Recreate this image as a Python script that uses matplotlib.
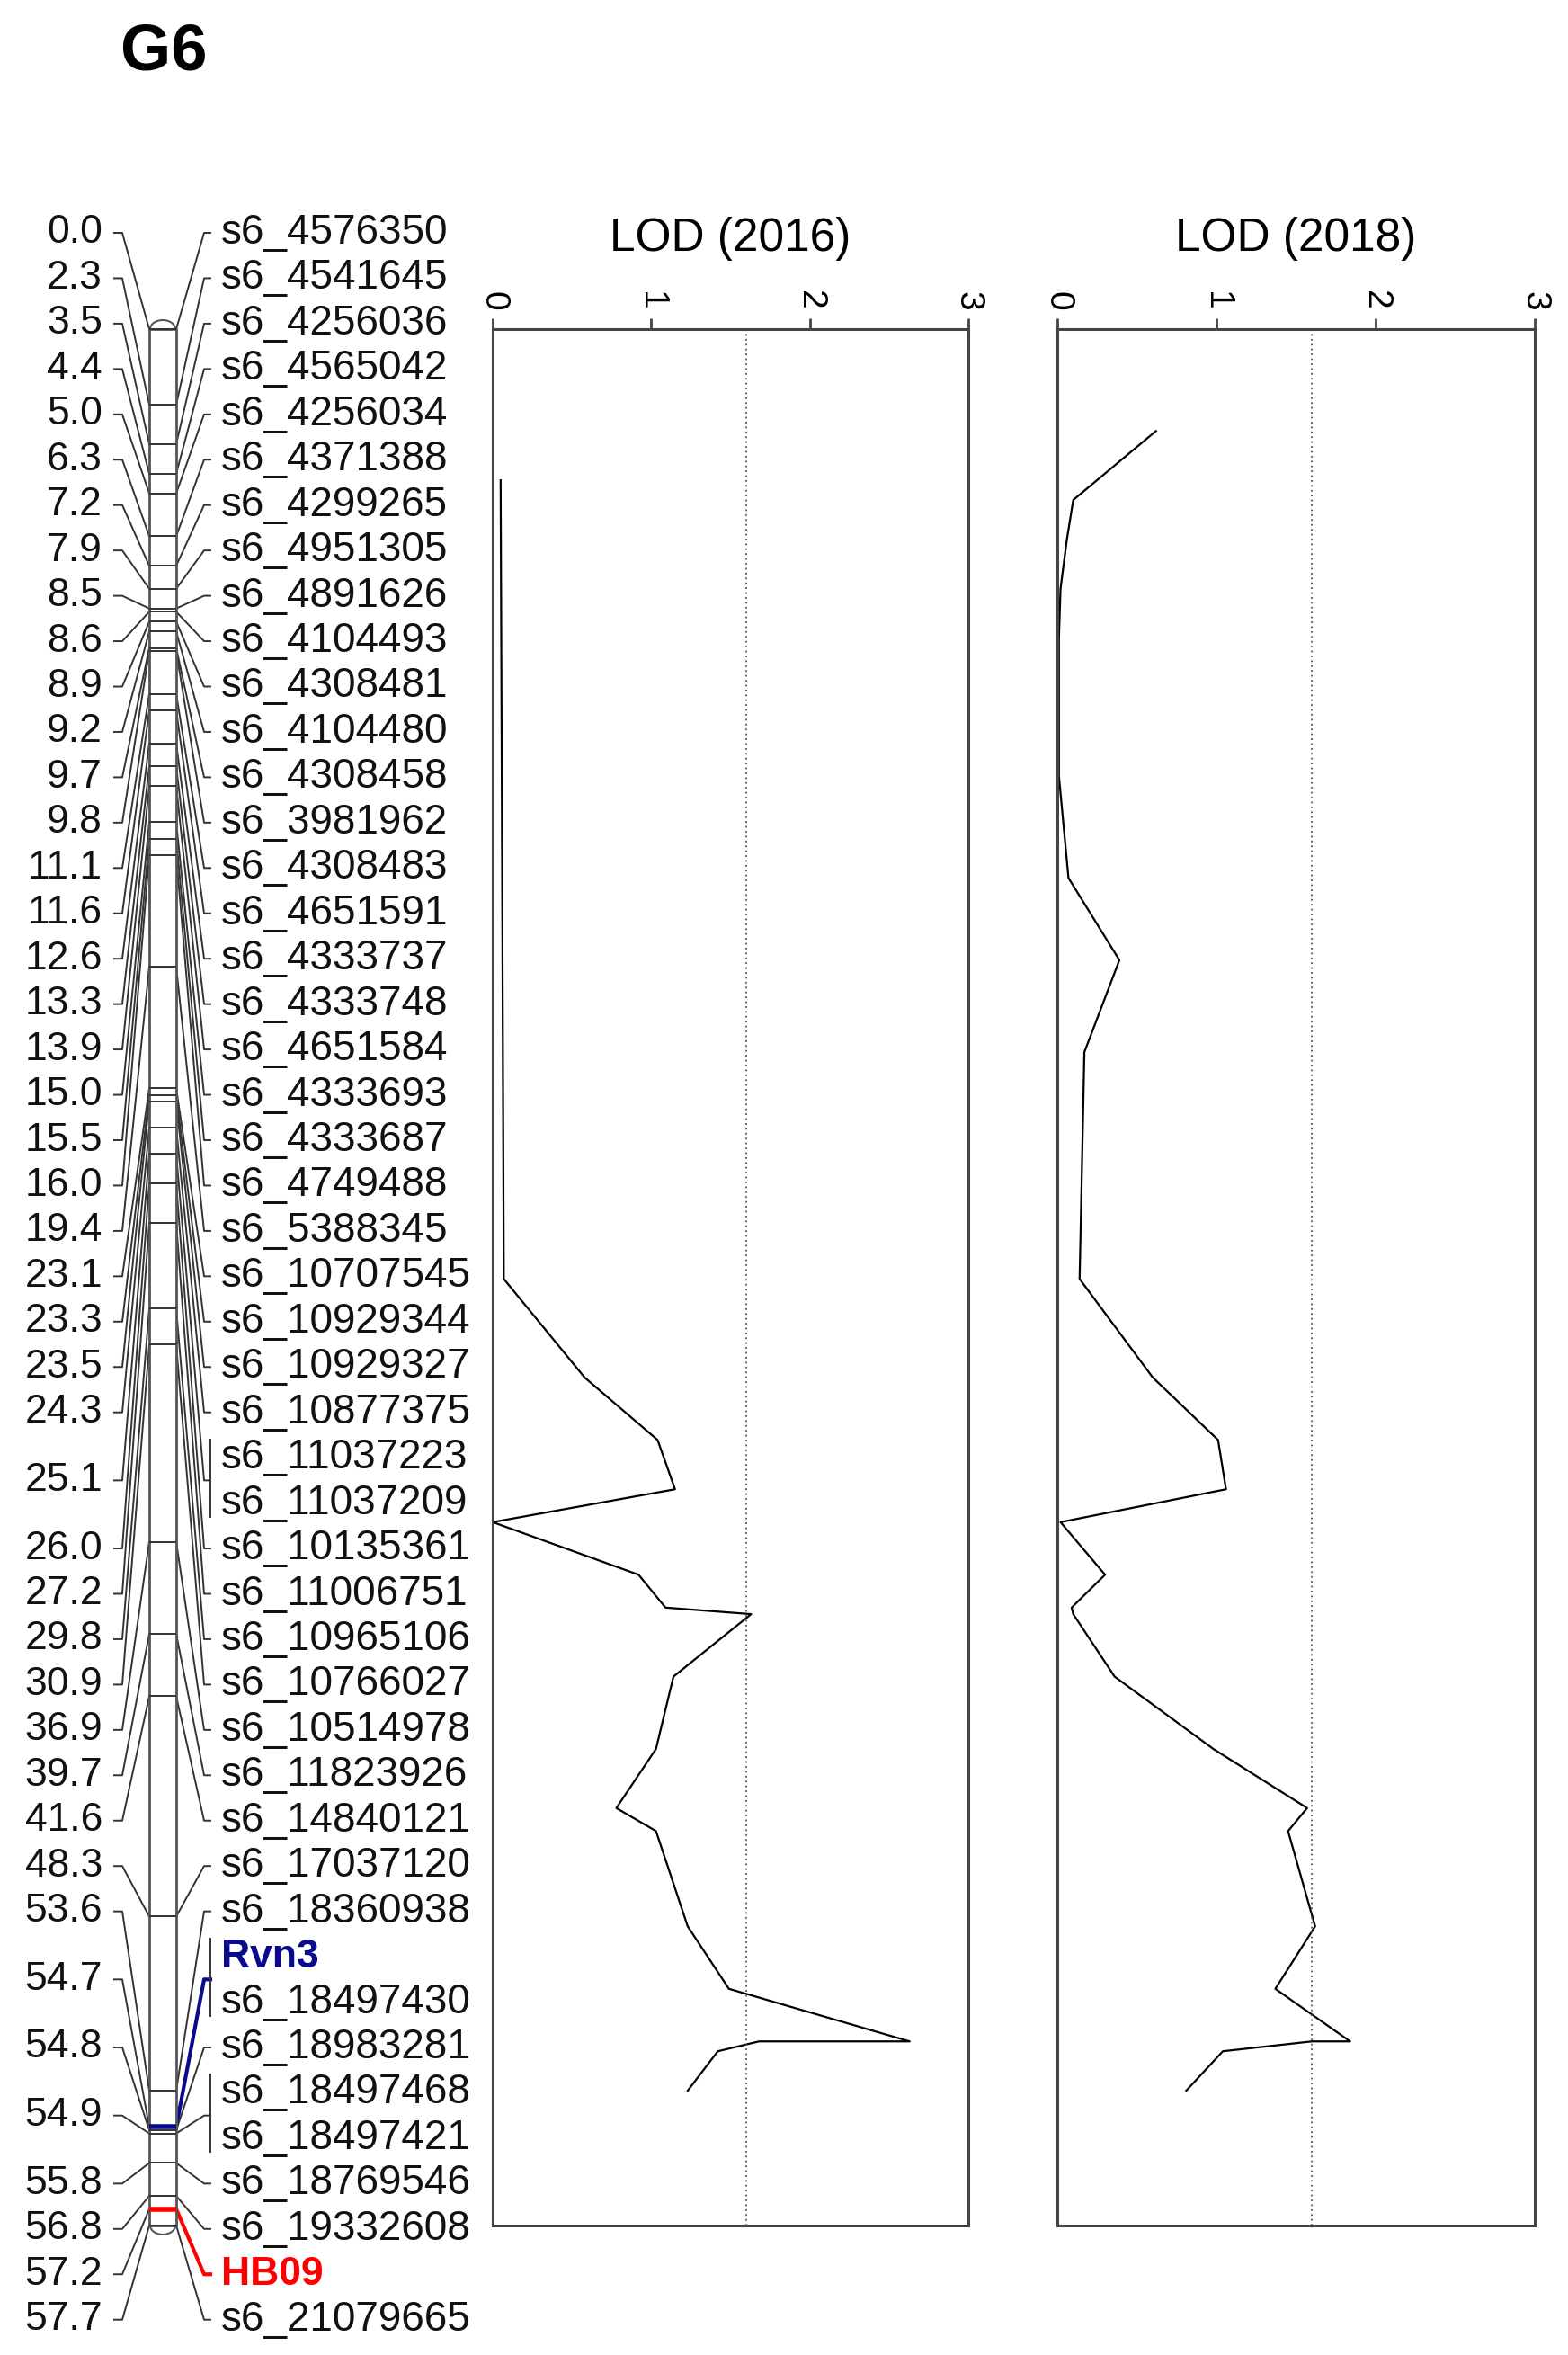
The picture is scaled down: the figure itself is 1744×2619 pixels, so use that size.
import numpy as np
import matplotlib.pyplot as plt
from matplotlib.patches import Rectangle, Arc

plt.rcParams['font.family'] = ['Liberation Sans', 'DejaVu Sans']

# linkage group G6: marker positions (cM) and names, top to bottom
positions = [0.0, 2.3, 3.5, 4.4, 5.0, 6.3, 7.2, 7.9, 8.5, 8.6, 8.9, 9.2, 9.7, 9.8,
             11.1, 11.6, 12.6, 13.3, 13.9, 15.0, 15.5, 16.0, 19.4, 23.1, 23.3, 23.5,
             24.3, 25.1, 25.1, 26.0, 27.2, 29.8, 30.9, 36.9, 39.7, 41.6, 48.3, 53.6,
             54.7, 54.7, 54.8, 54.9, 54.9, 55.8, 56.8, 57.2, 57.7]
markers = ['s6_4576350', 's6_4541645', 's6_4256036', 's6_4565042', 's6_4256034',
           's6_4371388', 's6_4299265', 's6_4951305', 's6_4891626', 's6_4104493',
           's6_4308481', 's6_4104480', 's6_4308458', 's6_3981962', 's6_4308483',
           's6_4651591', 's6_4333737', 's6_4333748', 's6_4651584', 's6_4333693',
           's6_4333687', 's6_4749488', 's6_5388345', 's6_10707545', 's6_10929344',
           's6_10929327', 's6_10877375', 's6_11037223', 's6_11037209', 's6_10135361',
           's6_11006751', 's6_10965106', 's6_10766027', 's6_10514978', 's6_11823926',
           's6_14840121', 's6_17037120', 's6_18360938', 'Rvn3', 's6_18497430',
           's6_18983281', 's6_18497468', 's6_18497421', 's6_18769546', 's6_19332608',
           'HB09', 's6_21079665']
highlight = {'Rvn3': '#0a0a8c', 'HB09': '#ff0000'}

# LOD profiles (position in cM, LOD)
pos_2016 = [4.6, 28.9, 31.9, 33.8, 35.3, 36.3, 37.9, 38.9, 39.1, 41.0, 43.2, 45.0,
            45.7, 48.6, 50.5, 52.1, 52.1, 52.4, 53.6]
lod_2016 = [0.05, 0.07, 0.58, 1.04, 1.15, 0.00, 0.92, 1.09, 1.63, 1.14, 1.03, 0.78,
            1.03, 1.23, 1.49, 2.63, 1.68, 1.42, 1.23]
pos_2018 = [3.1, 5.2, 6.4, 7.9, 9.4, 13.6, 16.7, 19.2, 22.0, 28.9, 31.9, 33.8, 35.3,
            36.3, 37.9, 38.9, 39.1, 41.0, 43.2, 45.0, 45.7, 48.6, 50.5, 52.1, 52.1,
            52.4, 53.6]
lod_2018 = [0.62, 0.10, 0.06, 0.02, 0.01, 0.01, 0.07, 0.39, 0.17, 0.14, 0.60, 1.01,
            1.06, 0.02, 0.30, 0.09, 0.10, 0.36, 0.98, 1.57, 1.45, 1.62, 1.37, 1.84,
            1.60, 1.04, 0.81]
threshold = 1.6
lod_ticks = [0, 1, 2, 3]

W, H = 1744, 2619
top_px, px_per_cm = 366, 36.55          # 0 cM at this pixel row
row0_px, row_step = 259, 50.45           # label rows
chr_len = max(positions)

def px2cm(y):
    return (y - top_px) / px_per_cm

fig = plt.figure(figsize=(W / 100, H / 100), dpi=100)
ax = fig.add_axes([0, 0, 1, 1])
ax.set_xlim(0, W)
ax.set_ylim(px2cm(H), px2cm(0))
ax.axis('off')

# chromosome bar
bx0, bx1 = 166, 196
lc = '#333333'
ax.add_patch(Rectangle((bx0, 0), bx1 - bx0, chr_len, facecolor='white',
                       edgecolor='#555555', lw=2, zorder=2))
cap_h = 2 * 10 / px_per_cm
ax.add_patch(Arc(((bx0 + bx1) / 2, 0), bx1 - bx0 - 2, cap_h, theta1=180, theta2=360,
                 color='#555555', lw=1.5))
ax.add_patch(Arc(((bx0 + bx1) / 2, chr_len), bx1 - bx0 - 2, cap_h, theta1=0, theta2=180,
                 color='#555555', lw=1.5))

rows = [px2cm(row0_px + i * row_step) for i in range(len(markers))]

# group rows sharing a position
groups = {}
for i, p in enumerate(positions):
    groups.setdefault(p, []).append(i)

for p, idx in groups.items():
    yr = np.mean([rows[i] for i in idx])
    names = [markers[i] for i in idx]
    col = lc
    for n in names:
        if n in highlight:
            col = highlight[n]
    hl = col != lc
    # line across bar
    ax.plot([bx0, bx1], [p, p], color=col, lw=4 if hl else 1.4, zorder=3,
            solid_capstyle='butt')
    # left connector + position label
    ax.plot([127, 136, bx0], [yr, yr, p], color=lc, lw=1.4, zorder=1)
    ax.text(114, yr, f'{p:.1f}', ha='right', va='center', fontsize=32, color='#111111')
    # right connector
    ax.plot([bx1, 227, 234], [p, yr, yr], color=col, lw=3 if hl else 1.4, zorder=1)
    if len(idx) > 1:
        ax.plot([234, 234], [rows[idx[0]] - 0.4 * row_step / px_per_cm,
                             rows[idx[-1]] + 0.3 * row_step / px_per_cm],
                color=lc, lw=1.4)

for i, n in enumerate(markers):
    if n in highlight:
        ax.text(246, rows[i], n, ha='left', va='center', fontsize=32,
                fontweight='bold', color=highlight[n])
    else:
        ax.text(246, rows[i], n, ha='left', va='center', fontsize=33, color='#111111')

fig.text(134 / W, 1 - 58 / H, 'G6', fontsize=52, fontweight='bold', ha='left',
         va='center')

# LOD panels
bot_px = top_px + chr_len * px_per_cm
for (x0, x1), pos, lod, title in [((548, 1077), pos_2016, lod_2016, 'LOD (2016)'),
                                  ((1176, 1707), pos_2018, lod_2018, 'LOD (2018)')]:
    a = fig.add_axes([x0 / W, 1 - bot_px / H, (x1 - x0) / W, (bot_px - top_px) / H])
    a.set_xlim(0, 3)
    a.set_ylim(chr_len, 0)
    a.plot(lod, pos, color='black', lw=1.6)
    a.axvline(threshold, color='#555555', ls=(0, (1, 2)), lw=1.3)
    a.xaxis.tick_top()
    a.set_xticks(lod_ticks)
    a.set_yticks([])
    a.tick_params(axis='x', direction='out', length=9, width=2, labelsize=28,
                  labelrotation=-90, pad=6, color='#444444')
    for s in a.spines.values():
        s.set_color('#444444')
        s.set_linewidth(2.2)
    fig.text((x0 + x1) / 2 / W, 1 - 265 / H, title, fontsize=37, ha='center',
             va='center')

fig.savefig('out.png', dpi=100, facecolor='white')
